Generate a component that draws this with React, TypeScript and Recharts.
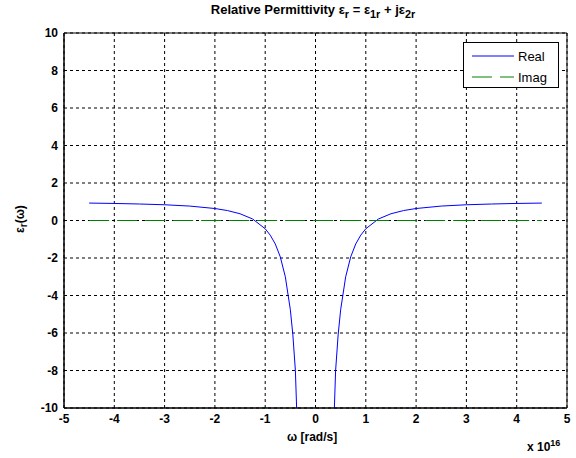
import { LineChart, Line, XAxis, YAxis, CartesianGrid, Legend, ReferenceArea } from "recharts";

// omega in units of 1e16 rad/s
const omegaLeft = [-4.5, -4, -3.5, -3, -2.5, -2, -1.75, -1.5, -1.25, -1, -0.9, -0.8, -0.7, -0.6, -0.5, -0.45, -0.4, -0.375];
const realLeft = [0.93, 0.91, 0.88, 0.84, 0.77, 0.64, 0.53, 0.36, 0.08, -0.44, -0.78, -1.25, -1.94, -3.0, -4.76, -6.1, -8.0, -10];
const omegaRight = [0.375, 0.4, 0.45, 0.5, 0.6, 0.7, 0.8, 0.9, 1, 1.25, 1.5, 1.75, 2, 2.5, 3, 3.5, 4, 4.5];
const realRight = [-10, -8.0, -6.1, -4.76, -3.0, -1.94, -1.25, -0.78, -0.44, 0.08, 0.36, 0.53, 0.64, 0.77, 0.84, 0.88, 0.91, 0.93];
const omegaImag = [-4.5, 4.5];
const imagValues = [0, 0];

const xTicks = [-5, -4, -3, -2, -1, 0, 1, 2, 3, 4, 5];
const yTicks = [-10, -8, -6, -4, -2, 0, 2, 4, 6, 8, 10];

const realData = [
  ...omegaLeft.map((w, i) => ({ w, v: realLeft[i] })),
  { w: 0, v: null },
  ...omegaRight.map((w, i) => ({ w, v: realRight[i] })),
];
const imagData = omegaImag.map((w, i) => ({ w, v: imagValues[i] }));

const font = "'Liberation Sans', Arial, sans-serif";
const tickStyle = { fontSize: 12, fontWeight: 700, fill: "#000", fontFamily: font };

function LegendBox() {
  return (
    <div
      style={{
        width: 96,
        height: 46,
        boxSizing: "border-box",
        border: "1px solid #000",
        background: "#fff",
        fontFamily: font,
        fontSize: 13,
        color: "#000",
      }}
    >
      <div style={{ display: "flex", alignItems: "center", height: 22, marginTop: 2 }}>
        <svg width={54} height={10}>
          <line x1={8} x2={50} y1={5} y2={5} stroke="#0000ff" strokeWidth={1} />
        </svg>
        <span>Real</span>
      </div>
      <div style={{ display: "flex", alignItems: "center", height: 20 }}>
        <svg width={54} height={10}>
          <line x1={8} x2={50} y1={5} y2={5} stroke="#008000" strokeWidth={1} strokeDasharray="20 8" />
        </svg>
        <span>Imag</span>
      </div>
    </div>
  );
}

export default function App() {
  return (
    <div style={{ position: "absolute", left: 0, top: 0, width: 576, height: 458, background: "#fff", fontFamily: font }}>
      <LineChart width={576} height={458} margin={{ top: 33, right: 9, bottom: 0, left: 0 }}>
        <CartesianGrid xAxisId="b" yAxisId="l" stroke="#000" strokeDasharray="3 3" strokeWidth={1} />
        <XAxis
          xAxisId="b"
          dataKey="w"
          type="number"
          domain={[-5, 5]}
          ticks={xTicks}
          allowDataOverflow
          height={50}
          tickSize={0}
          tickMargin={6}
          tick={tickStyle}
          stroke="#000"
        />
        <YAxis
          yAxisId="l"
          type="number"
          domain={[-10, 10]}
          ticks={yTicks}
          allowDataOverflow
          width={64}
          tickSize={0}
          tickMargin={6}
          tick={tickStyle}
          stroke="#000"
        />
        <ReferenceArea
          xAxisId="b"
          yAxisId="l"
          x1={-5}
          x2={5}
          y1={-10}
          y2={10}
          fill="none"
          fillOpacity={0}
          stroke="#000"
          strokeWidth={1}
          ifOverflow="visible"
        />
        <Legend
          layout="vertical"
          align="center"
          verticalAlign="middle"
          wrapperStyle={{ top: 42, left: 463 }}
          content={() => <LegendBox />}
        />
        <Line
          xAxisId="b"
          yAxisId="l"
          data={realData}
          dataKey="v"
          name="Real"
          stroke="#0000ff"
          strokeWidth={1}
          dot={false}
          type="linear"
          isAnimationActive={false}
        />
        <Line
          xAxisId="b"
          yAxisId="l"
          data={imagData}
          dataKey="v"
          name="Imag"
          stroke="#008000"
          strokeWidth={1}
          strokeDasharray="20 8"
          dot={false}
          type="linear"
          isAnimationActive={false}
        />
      </LineChart>
      <div style={{ position: "absolute", top: 2, left: 0, width: 626, textAlign: "center", fontSize: 13, fontWeight: 700 }}>
        Relative Permittivity ε<sub>r</sub> = ε<sub>1r</sub> + jε<sub>2r</sub>
      </div>
      <div
        style={{
          position: "absolute",
          left: 21,
          top: 219,
          transform: "translate(-50%, -50%) rotate(-90deg)",
          fontSize: 12,
          fontWeight: 700,
          whiteSpace: "nowrap",
        }}
      >
        ε<sub>r</sub>(ω)
      </div>
      <div style={{ position: "absolute", top: 430, left: 287, fontSize: 12, fontWeight: 700 }}>ω [rad/s]</div>
      <div style={{ position: "absolute", top: 438, left: 527, fontSize: 12, fontWeight: 700 }}>
        x 10<sup style={{ fontSize: 9 }}>16</sup>
      </div>
    </div>
  );
}
